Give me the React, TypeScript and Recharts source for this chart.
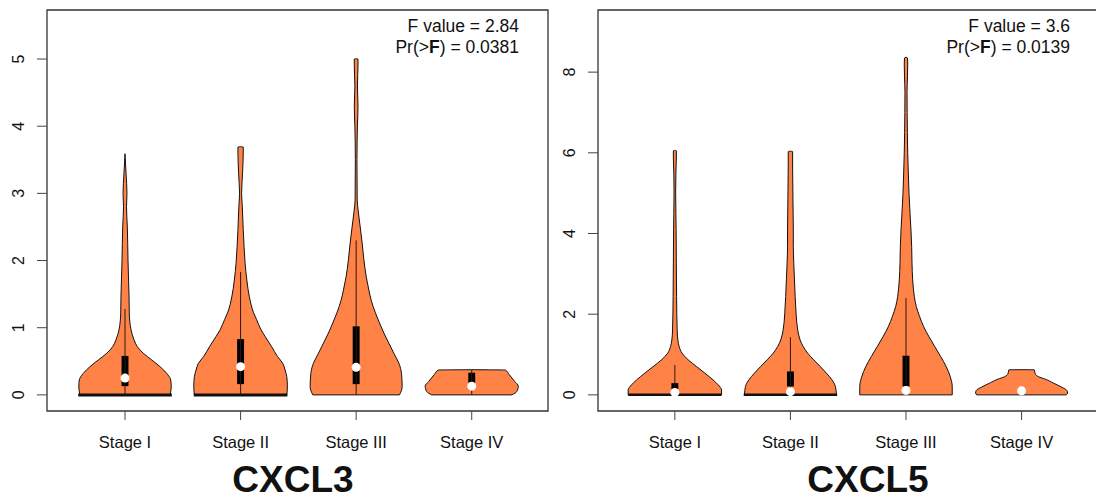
import { ComposedChart, Area, XAxis, YAxis, ReferenceArea, ReferenceLine, ReferenceDot } from 'recharts'

const FONT = '"Liberation Sans", Arial, sans-serif'
const VIOLIN_FILL = '#FF8247'

const stages = ['Stage I', 'Stage II', 'Stage III', 'Stage IV']

// violin outlines: [value, half width]
const cxcl3StageI = [[0, 0.39], [0.12, 0.4], [0.22, 0.396], [0.32, 0.361], [0.42, 0.303], [0.52, 0.231], [0.62, 0.158], [0.72, 0.106], [0.82, 0.078], [0.97, 0.052], [1.22, 0.037], [1.46, 0.035], [2.0, 0.026], [2.5, 0.02], [2.8, 0.013], [3.0, 0.017], [3.3, 0.009], [3.59, 0]]
const cxcl3StageII = [[0, 0.4], [0.12, 0.405], [0.27, 0.4], [0.37, 0.385], [0.47, 0.365], [0.57, 0.32], [0.72, 0.268], [0.87, 0.212], [0.97, 0.177], [1.12, 0.139], [1.22, 0.113], [1.46, 0.076], [1.71, 0.054], [1.96, 0.039], [2.21, 0.03], [2.46, 0.023], [2.8, 0.015], [3.0, 0.009], [3.3, 0.017], [3.6, 0.023], [3.69, 0.023], [3.695, 0]]
const cxcl3StageIII = [[0, 0.375], [0.12, 0.398], [0.32, 0.392], [0.47, 0.37], [0.62, 0.326], [0.77, 0.283], [0.92, 0.24], [1.07, 0.202], [1.22, 0.167], [1.41, 0.13], [1.56, 0.11], [1.76, 0.087], [2.01, 0.067], [2.26, 0.052], [2.5, 0.035], [2.75, 0.017], [2.9, 0.009], [3.5, 0.007], [4.0, 0.011], [4.3, 0.016], [4.6, 0.011], [4.9, 0.016], [5.0, 0.016], [5.005, 0]]
const cxcl3StageIV = [[0, 0.346], [0.05, 0.39], [0.13, 0.403], [0.2, 0.372], [0.3, 0.325], [0.37, 0.29], [0.375, 0]]

const cxcl5StageI = [[0, 0.404], [0.12, 0.404], [0.25, 0.374], [0.37, 0.331], [0.54, 0.259], [0.7, 0.188], [0.87, 0.115], [1.03, 0.063], [1.2, 0.037], [1.36, 0.026], [1.61, 0.02], [2.44, 0.015], [4.09, 0.011], [4.5, 0.009], [5.0, 0.007], [5.5, 0.009], [5.9, 0.013], [6.05, 0.013], [6.06, 0]]
const cxcl5StageII = [[0, 0.398], [0.21, 0.389], [0.37, 0.36], [0.54, 0.311], [0.7, 0.259], [0.87, 0.201], [1.03, 0.15], [1.2, 0.11], [1.36, 0.084], [1.61, 0.063], [2.02, 0.049], [2.44, 0.041], [2.85, 0.035], [3.26, 0.029], [3.68, 0.025], [4.09, 0.025], [4.83, 0.022], [5.65, 0.019], [6.03, 0.019], [6.04, 0]]
const cxcl5StageIII = [[0, 0.4], [0.21, 0.4], [0.45, 0.383], [0.7, 0.348], [0.95, 0.3], [1.2, 0.248], [1.44, 0.199], [1.69, 0.153], [1.94, 0.118], [2.19, 0.089], [2.44, 0.072], [2.85, 0.058], [3.26, 0.052], [3.68, 0.049], [4.09, 0.043], [4.5, 0.035], [5.0, 0.026], [5.5, 0.02], [6.0, 0.015], [6.5, 0.012], [7.0, 0.01], [7.5, 0.009], [7.9, 0.013], [8.2, 0.015], [8.35, 0.013], [8.37, 0]]
const cxcl5StageIV = [[0, 0.386], [0.04, 0.398], [0.11, 0.392], [0.19, 0.348], [0.29, 0.277], [0.39, 0.205], [0.45, 0.147], [0.52, 0.118], [0.62, 0.11], [0.625, 0]]

// box plot stats per stage
const cxcl3Q1 = [0.13, 0.16, 0.16, 0.18]
const cxcl3Q3 = [0.58, 0.83, 1.02, 0.33]
const cxcl3Median = [0.25, 0.42, 0.41, 0.13]
const cxcl3WhiskerHigh = [1.28, 1.83, 2.3, 0.37]
const cxcl3Base = [0.405, 0.405, 0.375, 0.346]
const cxcl3BaseThick = [3, 3, 1, 1]

const cxcl5Q1 = [0.12, 0.21, 0.21, 0.1]
const cxcl5Q3 = [0.29, 0.58, 0.97, 0.1]
const cxcl5Median = [0.06, 0.08, 0.11, 0.1]
const cxcl5WhiskerHigh = [0.74, 1.43, 2.4, 0]
const cxcl5Base = [0.404, 0.404, 0.4, 0.386]
const cxcl5BaseThick = [2.5, 2.5, 1, 1]

const cxcl3Ticks = [0, 1, 2, 3, 4, 5]
const cxcl5Ticks = [0, 2, 4, 6, 8]

function RotTick(props: any) {
  const { x, y, payload } = props
  const bx = x - 11
  return (
    <text x={bx} y={y} transform={`rotate(-90, ${bx}, ${y})`} textAnchor="middle" fontSize={16} fill="#111" fontFamily={FONT}>
      {payload.value}
    </text>
  )
}

type PanelProps = {
  left: number
  violins: number[][][]
  q1: number[]
  q3: number[]
  median: number[]
  whiskerHigh: number[]
  base: number[]
  baseThick: number[]
  xDomain: [number, number]
  yDomain: [number, number]
  yTicks: number[]
}

function Panel({ left, violins, q1, q3, median, whiskerHigh, base, baseThick, xDomain, yDomain, yTicks }: PanelProps) {
  return (
    <div style={{ position: 'absolute', left, top: 0 }}>
      <ComposedChart layout="vertical" width={560} height={500} margin={{ top: 10, right: 12, bottom: 0, left: 0 }}>
        <XAxis
          type="number"
          domain={xDomain}
          ticks={[1, 2, 3, 4]}
          interval={0}
          allowDataOverflow
          tickFormatter={(v: number) => stages[v - 1]}
          axisLine={false}
          tickSize={9}
          tickMargin={16}
          height={89}
          tickLine={{ stroke: '#444' }}
          tick={{ fontSize: 16.5, fill: '#111', fontFamily: FONT }}
        />
        <YAxis
          type="number"
          dataKey="y"
          domain={yDomain}
          ticks={yTicks}
          interval={0}
          reversed
          allowDataOverflow
          axisLine={false}
          width={47}
          tickSize={10}
          tickMargin={2}
          tickLine={{ stroke: '#444' }}
          tick={<RotTick />}
        />
        {violins.map((pts, i) => (
          <Area
            key={`v-${i}`}
            data={pts.map(([y, w]) => ({ y, range: [i + 1 - w, i + 1 + w] }))}
            dataKey="range"
            type="monotone"
            stroke="#111"
            strokeWidth={1}
            fill={VIOLIN_FILL}
            fillOpacity={1}
            dot={false}
            activeDot={false}
            isAnimationActive={false}
          />
        ))}
        {base.map((w, i) => (
          <ReferenceLine key={`b-${i}`} segment={[{ x: i + 1 - w, y: 0 }, { x: i + 1 + w, y: 0 }]} stroke="#111" strokeWidth={baseThick[i]} ifOverflow="visible" />
        ))}
        {whiskerHigh.map((h, i) =>
          h > 0 ? (
            <ReferenceLine key={`w-${i}`} segment={[{ x: i + 1, y: 0 }, { x: i + 1, y: h }]} stroke="#2a1a10" strokeWidth={1} ifOverflow="visible" />
          ) : null
        )}
        {q1.map((lo, i) =>
          q3[i] > lo ? (
            <ReferenceArea key={`q-${i}`} x1={i + 1 - 0.03} x2={i + 1 + 0.03} y1={lo} y2={q3[i]} fill="#000" fillOpacity={1} stroke="none" ifOverflow="visible" />
          ) : null
        )}
        {median.map((m, i) => (
          <ReferenceDot key={`m-${i}`} x={i + 1} y={m} r={4.5} fill="#fff" stroke="none" ifOverflow="visible" />
        ))}
        <ReferenceArea x1={xDomain[0]} x2={xDomain[1]} y1={yDomain[0]} y2={yDomain[1]} fill="none" fillOpacity={0} stroke="#333" strokeWidth={1.3} ifOverflow="visible" />
      </ComposedChart>
    </div>
  )
}

export default function App() {
  return (
    <div style={{ position: 'absolute', left: 0, top: 0, width: 1096, height: 500, overflow: 'hidden', background: '#fff' }}>
      <Panel
        left={0}
        violins={[cxcl3StageI, cxcl3StageII, cxcl3StageIII, cxcl3StageIV]}
        q1={cxcl3Q1}
        q3={cxcl3Q3}
        median={cxcl3Median}
        whiskerHigh={cxcl3WhiskerHigh}
        base={cxcl3Base}
        baseThick={cxcl3BaseThick}
        xDomain={[0.325, 4.66]}
        yDomain={[-0.24, 5.73]}
        yTicks={cxcl3Ticks}
      />
      <Panel
        left={551}
        violins={[cxcl5StageI, cxcl5StageII, cxcl5StageIII, cxcl5StageIV]}
        q1={cxcl5Q1}
        q3={cxcl5Q3}
        median={cxcl5Median}
        whiskerHigh={cxcl5WhiskerHigh}
        base={cxcl5Base}
        baseThick={cxcl5BaseThick}
        xDomain={[0.335, 4.67]}
        yDomain={[-0.4, 9.54]}
        yTicks={cxcl5Ticks}
      />
      <svg width={1096} height={500} style={{ position: 'absolute', left: 0, top: 0, pointerEvents: 'none' }} fontFamily={FONT}>
        <text x={519} y={31.5} textAnchor="end" fontSize={17.5} fill="#111">F value = 2.84</text>
        <text x={519} y={53} textAnchor="end" fontSize={17.5} fill="#111">
          Pr(&gt;<tspan fontWeight="bold">F</tspan>) = 0.0381
        </text>
        <text x={1070} y={31.5} textAnchor="end" fontSize={17.5} fill="#111">F value = 3.6</text>
        <text x={1070} y={53} textAnchor="end" fontSize={17.5} fill="#111">
          Pr(&gt;<tspan fontWeight="bold">F</tspan>) = 0.0139
        </text>
        <text x={293} y={492} textAnchor="middle" fontSize={37} fontWeight="bold" fill="#111">CXCL3</text>
        <text x={868} y={492} textAnchor="middle" fontSize={37} fontWeight="bold" fill="#111">CXCL5</text>
      </svg>
    </div>
  )
}
